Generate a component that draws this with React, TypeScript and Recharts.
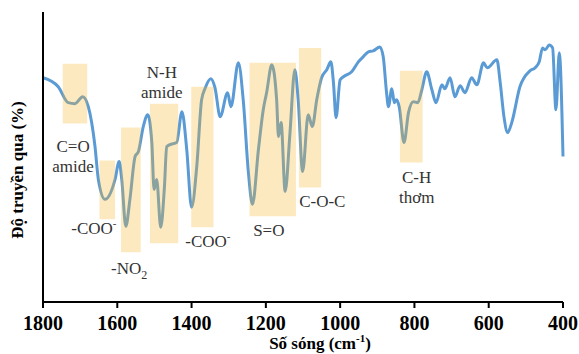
import { Line, LineChart, ReferenceArea, ReferenceDot, XAxis, YAxis } from "recharts"

// wavenumber (cm-1) and transmittance (arbitrary units)
const wavenumbers = [
  1800, 1759, 1732, 1714, 1693, 1678, 1660, 1651, 1633, 1606, 1595, 1588, 1577, 1566, 1552, 1543,
  1530, 1518, 1507, 1501, 1494, 1483, 1473, 1467, 1449, 1440, 1426, 1413, 1400, 1386, 1373, 1364,
  1348, 1337, 1323, 1303, 1294, 1274, 1261, 1247, 1236, 1220, 1207, 1198, 1184, 1171, 1166, 1159,
  1148, 1135, 1122, 1113, 1101, 1086, 1075, 1063, 1050, 1036, 1025, 1018, 1011, 1000, 987, 969,
  951, 938, 924, 911, 893, 884, 875, 870, 861, 854, 848, 841, 828, 816, 803, 791, 780, 767, 753,
  742, 726, 718, 704, 691, 677, 664, 646, 632, 614, 604, 578, 569, 559, 549, 538, 516, 489, 475,
  464, 455, 448, 437, 428, 419, 410, 400,
]
const transmittance = [
  225, 216, 200, 199, 206, 196, 156, 123, 103, 123, 141, 123, 76, 103, 146, 151,
  176, 188, 160, 113, 123, 75, 116, 156, 159, 160, 191, 153, 95, 136, 203, 214,
  224, 215, 186, 210, 196, 240, 203, 130, 98, 153, 193, 210, 238, 203, 166, 180,
  111, 170, 233, 203, 131, 188, 176, 203, 225, 233, 241, 220, 185, 223, 227, 231,
  241, 246, 251, 252, 256, 246, 210, 196, 214, 200, 203, 196, 160, 190, 201, 200, 213, 231, 213,
  200, 218, 214, 225, 206, 217, 210, 225, 218, 240, 235, 243, 220, 186, 170, 180, 216, 232, 235,
  241, 255, 253, 258, 255, 193, 250, 146,
]

const xTicks = [1800, 1600, 1400, 1200, 1000, 800, 600, 400]

// highlighted bands: [from, to, low, high]
const bandFrom = [1747, 1648, 1590, 1512, 1401, 1244, 1111, 839]
const bandTo = [1681, 1606, 1537, 1436, 1341, 1119, 1051, 778]
const bandLow = [179, 83, 50, 59, 75, 86, 115, 140]
const bandHigh = [239, 142, 175, 199, 216, 240, 255, 232]

// annotations
const noteX = [1719, 1663, 1568, 1480, 1356, 1192, 1048, 794]
const noteY = [151, 68, 28, 225, 55, 66, 95, 119]
const noteLines = [
  ["C=O", "amide"],
  ["-COO|-"],
  ["-NO_2"],
  ["N-H", "amide"],
  ["-COO|-"],
  ["S=O"],
  ["C-O-C"],
  ["C-H", "thơm"],
]

const data = wavenumbers.map((w, i) => ({ w, t: transmittance[i] }))

const serif = "Liberation Serif"

function renderLine(line: string) {
  if (line.includes("|")) {
    const [a, b] = line.split("|")
    return [a, <tspan key="s" dy={-7} fontSize={11}>{b}</tspan>]
  }
  if (line.includes("_")) {
    const [a, b] = line.split("_")
    return [a, <tspan key="s" dy={5} fontSize={12}>{b}</tspan>]
  }
  return line
}

function NoteLabel(props: any) {
  const { viewBox, lines } = props
  const cx = viewBox.x + (viewBox.width || 0) / 2
  const cy = viewBox.y + (viewBox.height || 0) / 2
  return (
    <g>
      {lines.map((l: string, i: number) => (
        <text key={i} x={cx} y={cy + i * 20} textAnchor="middle" fontFamily={serif} fontSize={17} fill="#333">
          {renderLine(l)}
        </text>
      ))}
    </g>
  )
}

export default function App() {
  return (
    <div style={{ position: "absolute", left: 0, top: 0, background: "#fff" }}>
      <LineChart width={579} height={354} data={data} margin={{ top: 12, right: 16, bottom: 0, left: 8 }}>
        <XAxis
          dataKey="w"
          type="number"
          domain={[400, 1800]}
          reversed
          ticks={xTicks}
          interval={0}
          height={52}
          axisLine={{ stroke: "#000", strokeWidth: 2 }}
          tickLine={{ stroke: "#000", strokeWidth: 2 }}
          tickSize={6}
          tickMargin={8}
          tick={{ fill: "#000", fontFamily: serif, fontSize: 20, fontWeight: "bold" }}
          label={{
            content: () => (
              <text x={320} y={349} textAnchor="middle" fontFamily={serif} fontSize={17} fontWeight="bold" fill="#000">
                Số sóng (cm<tspan dy={-7} fontSize={11}>-1</tspan>
                <tspan dy={7}>)</tspan>
              </text>
            ),
          }}
        />
        <XAxis xAxisId="top" dataKey="w" type="number" domain={[400, 1800]} reversed orientation="top" height={0} tick={false} tickLine={false} axisLine={{ stroke: "#000", strokeWidth: 2 }} />
        <YAxis
          domain={[0, 291]}
          width={35}
          tick={false}
          tickLine={false}
          axisLine={{ stroke: "#000", strokeWidth: 2 }}
          label={{
            content: () => (
              <text x={23} y={170} transform="rotate(-90 23 170)" textAnchor="middle" fontFamily={serif} fontSize={17} fontWeight="bold" fill="#000">
                Độ truyền qua (%)
              </text>
            ),
          }}
        />
        <YAxis yAxisId="right" orientation="right" domain={[0, 291]} width={0} tick={false} tickLine={false} axisLine={{ stroke: "#000", strokeWidth: 2 }} />
        <Line
          type="monotone"
          dataKey="t"
          stroke="#5b9bd5"
          strokeWidth={3}
          dot={false}
          isAnimationActive={false}
        />
        {bandFrom.map((f, i) => (
          <ReferenceArea
            key={i}
            x1={f}
            x2={bandTo[i]}
            y1={bandLow[i]}
            y2={bandHigh[i]}
            fill="#f8b62a"
            fillOpacity={0.3}
            stroke="none"
            zIndex={700}
          />
        ))}
        {noteX.map((x, i) => (
          <ReferenceDot
            key={"n" + i}
            x={x}
            y={noteY[i]}
            r={0}
            stroke="none"
            fill="none"
            label={<NoteLabel lines={noteLines[i]} />}
          />
        ))}
      </LineChart>
    </div>
  )
}
